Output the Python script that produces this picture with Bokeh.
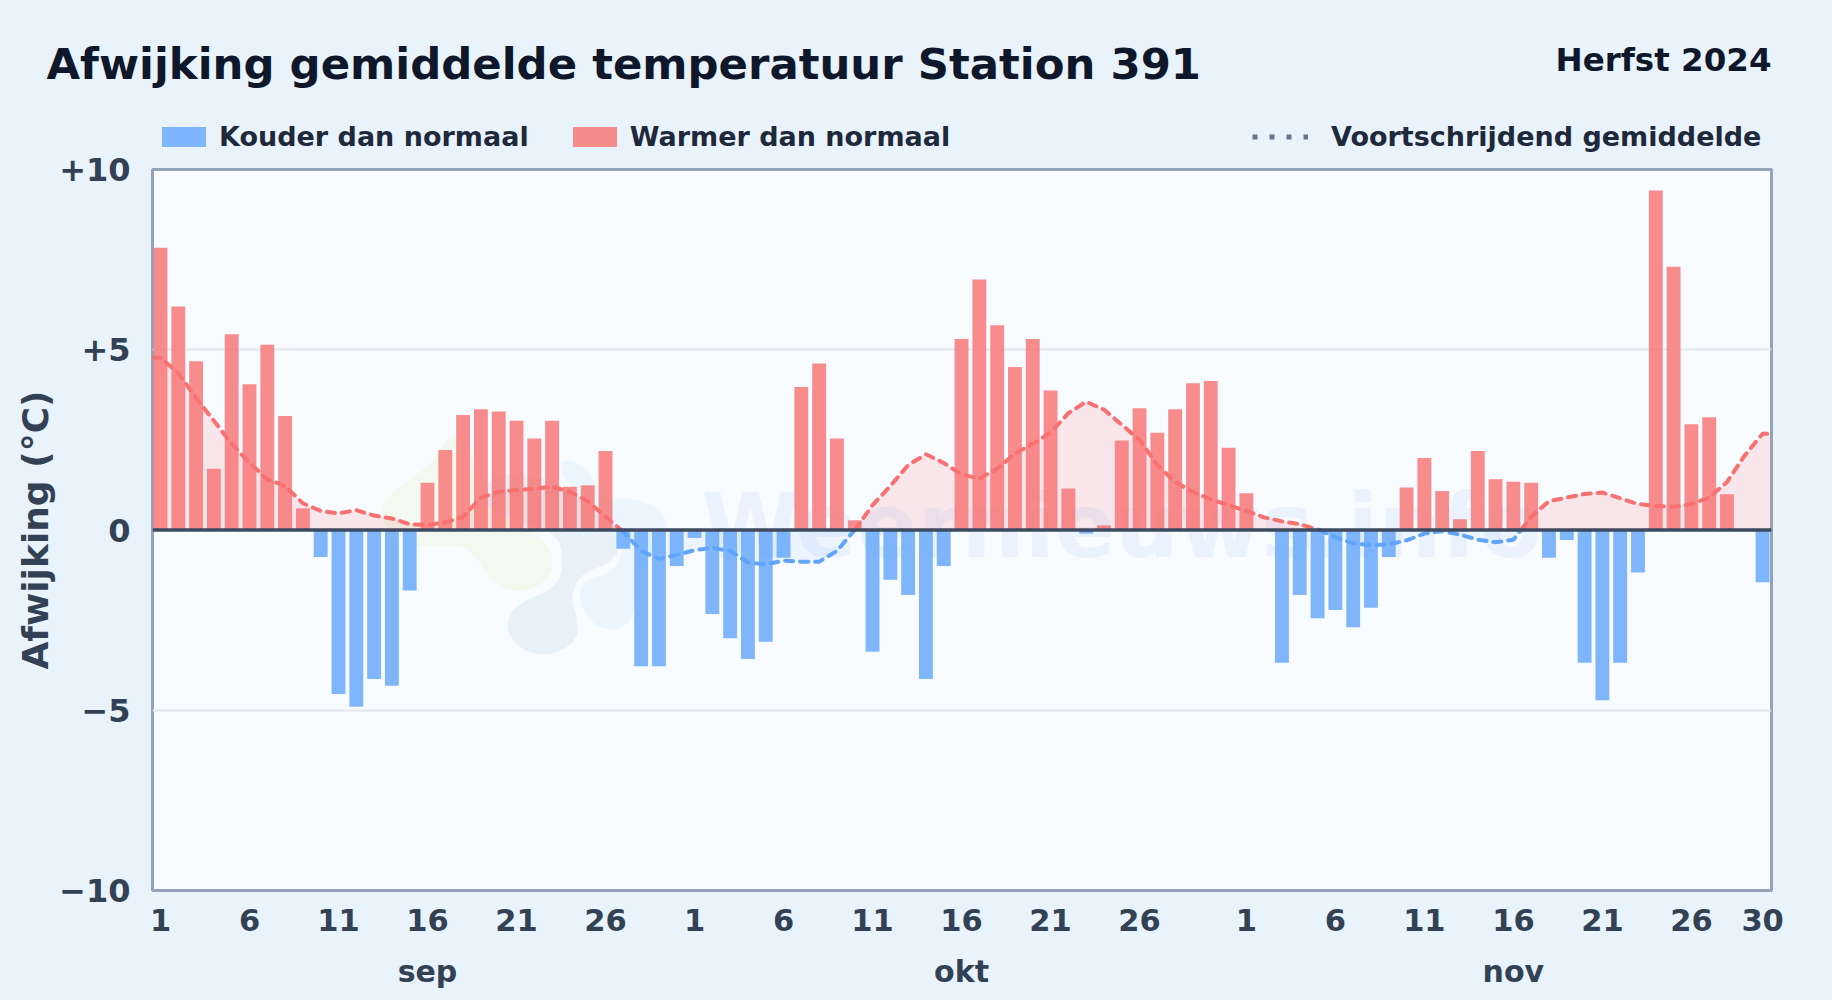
import math
from bokeh.plotting import figure
from bokeh.layouts import column
from bokeh.embed import file_html
from bokeh.resources import INLINE
from bokeh.models import (ColumnDataSource, FixedTicker, LinearAxis, Legend, LegendItem,
                          Label, Span, Range1d)
from bokeh.core.properties import value

TITLE = "Afwijking gemiddelde temperatuur Station 391"
SEASON = "Herfst 2024"
WATERMARK = "Weernieuws.info"
YLABEL = "Afwijking (°C)"

# Daily deviation (°C), 1 sep - 30 nov 2024
sep_values = [7.83, 6.2, 4.68, 1.7, 5.43, 4.04, 5.14, 3.16, 0.6, -0.75,
              -4.55, -4.9, -4.13, -4.32, -1.68, 1.31, 2.22, 3.19, 3.35, 3.29,
              3.03, 2.54, 3.03, 1.2, 1.24, 2.19, -0.52, -3.78, -3.78, -1.0]
okt_values = [-0.22, -2.33, -3.0, -3.58, -3.1, -0.77, 3.97, 4.62, 2.54, 0.27,
              -3.38, -1.38, -1.8, -4.13, -1.0, 5.3, 6.95, 5.68, 4.52, 5.3,
              3.87, 1.15, -0.1, 0.13, 2.48, 3.38, 2.7, 3.35, 4.07, 4.13, 2.28]
nov_values = [1.02, 0.0, -3.68, -1.8, -2.45, -2.22, -2.7, -2.16, -0.75, 1.18,
              2.0, 1.08, 0.3, 2.19, 1.41, 1.34, 1.31, -0.77, -0.28, -3.68,
              -4.72, -3.68, -1.18, 9.42, 7.3, 2.93, 3.13, 0.99, 0.0, -1.45]

# Moving average
sep_ma = [4.78, 4.35, 3.66, 3.03, 2.39, 1.86, 1.41, 1.22, 0.74, 0.53,
          0.46, 0.55, 0.40, 0.32, 0.16, 0.14, 0.21, 0.37, 0.90, 1.06,
          1.11, 1.14, 1.20, 1.06, 0.80, 0.37, -0.05, -0.58, -0.80, -0.69]
okt_ma = [-0.56, -0.50, -0.58, -0.90, -0.96, -0.85, -0.88, -0.88, -0.58, 0.0,
          0.69, 1.22, 1.80, 2.10, 1.86, 1.54, 1.43, 1.70, 2.12, 2.39,
          2.70, 3.24, 3.56, 3.34, 2.92, 2.50, 1.80, 1.33, 1.06, 0.85, 0.69]
nov_ma = [0.53, 0.35, 0.24, 0.16, 0.02, -0.20, -0.37, -0.42, -0.40, -0.29,
          -0.10, -0.03, -0.13, -0.27, -0.34, -0.27, 0.37, 0.80, 0.90, 1.00,
          1.04, 0.88, 0.72, 0.67, 0.64, 0.72, 0.90, 1.33, 2.07, 2.67]

month_names = ["sep", "okt", "nov"]
y_ticks = [-10, -5, 0, 5, 10]
y_tick_labels = ["−10", "−5", "0", "+5", "+10"]

values = sep_values + okt_values + nov_values
ma = sep_ma + okt_ma + nov_ma
month_sizes = [len(sep_values), len(okt_values), len(nov_values)]

tick_pos, tick_lab, month_pos = [], [], []
offset = 0
for n in month_sizes:
    for d in range(1, 27, 5):
        tick_pos.append(offset + d - 1)
        tick_lab.append(str(d))
    month_pos.append(offset + 15)
    offset += n
tick_pos.append(90)
tick_lab.append("30")

BLUE, RED = "#60a5fa", "#f87171"
BG, PLOT_BG = "#e9f3fc", "#f8fbff"
X0, X1 = -0.449, 90.5
HEAD_H = 155

# --- chart
p = figure(width=1832, height=1000 - HEAD_H, output_backend="svg", toolbar_location=None,
           x_range=Range1d(X0, X1), y_range=Range1d(-10, 10), frame_align=False,
           min_border_left=152, min_border_right=61, min_border_top=169 - HEAD_H, min_border_bottom=110,
           background_fill_color=PLOT_BG, border_fill_color=BG)
p.outline_line_color = "#94a3b8"
p.outline_line_width = 3

def frame_x(px):
    return (px - 160.0) / 17.8

def frame_y(py):
    return (529.8 - py) / 36.05

def chaikin(pts, n=3):
    for _ in range(n):
        out = []
        for i in range(len(pts)):
            a, b = pts[i], pts[(i + 1) % len(pts)]
            out.append((0.75 * a[0] + 0.25 * b[0], 0.75 * a[1] + 0.25 * b[1]))
            out.append((0.25 * a[0] + 0.75 * b[0], 0.25 * a[1] + 0.75 * b[1]))
        pts = out
    return pts

# Watermark logo
logo_shapes = [
    ("#f3f9ee", [(380, 505), (383, 527), (403, 540), (420, 547), (460, 545), (473, 553), (490, 580),
                 (510, 592), (537, 588), (553, 570), (550, 547), (533, 533), (480, 500), (470, 440),
                 (450, 432), (430, 465), (400, 485)]),
    ("#ebf6fe", [(560, 457), (587, 467), (600, 497), (647, 500), (670, 520), (653, 553), (637, 570),
                 (633, 620), (613, 631), (590, 623), (578, 600), (583, 580), (613, 572), (623, 550),
                 (617, 530), (560, 477)]),
    ("#e8f0f8", [(557, 533), (563, 560), (557, 587), (520, 602), (507, 617), (508, 637), (527, 653),
                 (553, 655), (577, 640), (577, 617), (570, 597), (580, 573), (610, 563), (620, 547),
                 (617, 528), (560, 483), (520, 473), (490, 477), (473, 500), (517, 523)]),
]
for col, pts in logo_shapes:
    s = chaikin(pts)
    p.patch([frame_x(a) for a, _ in s], [frame_y(b) for _, b in s], fill_color=col, line_color=None)

p.text([frame_x(1121)], [frame_y(526)], text=[WATERMARK], text_font=value("DejaVu Sans"),
       text_font_size="89px", text_font_style="bold", text_color="#3b82f6", text_alpha=0.07,
       text_align="center", text_baseline="alphabetic")

# Moving average, split at the zero crossings
xs = [X0] + list(range(len(ma))) + [X1]
ys = [ma[0]] + ma + [ma[-1]]
dx, dy = [xs[0]], [ys[0]]
for i in range(1, len(xs)):
    a, b = ys[i - 1], ys[i]
    if a * b < 0:
        t = a / (a - b)
        dx.append(xs[i - 1] + t * (xs[i] - xs[i - 1]))
        dy.append(0.0)
    dx.append(xs[i])
    dy.append(b)

pos = [max(v, 0) for v in dy]
neg = [min(v, 0) for v in dy]
p.varea(dx, [0] * len(dx), pos, fill_color=RED, fill_alpha=0.15)
p.varea(dx, [0] * len(dx), neg, fill_color=BLUE, fill_alpha=0.08)
line_pos = [v if v >= 0 else math.nan for v in dy]
line_neg = [v if v <= 0 else math.nan for v in dy]
p.line(dx, line_pos, line_color=RED, line_width=4, line_dash="8 7", line_cap="round")
p.line(dx, line_neg, line_color=BLUE, line_width=4, line_dash="8 7", line_cap="round")

idx = list(range(len(values)))
cold = ColumnDataSource(dict(x=[i for i in idx if values[i] < 0], top=[v for v in values if v < 0]))
warm = ColumnDataSource(dict(x=[i for i in idx if values[i] > 0], top=[v for v in values if v > 0]))
p.vbar(x="x", top="top", bottom=0, width=0.78, source=cold, fill_color=BLUE, fill_alpha=0.8, line_color=None)
p.vbar(x="x", top="top", bottom=0, width=0.78, source=warm, fill_color=RED, fill_alpha=0.8, line_color=None)

p.add_layout(Span(location=0, dimension="width", line_color="#3d4a60", line_width=3.5))

# Axes
p.xaxis.ticker = FixedTicker(ticks=tick_pos)
p.xaxis.major_label_overrides = dict(zip(tick_pos, tick_lab))
p.yaxis.ticker = FixedTicker(ticks=y_ticks)
p.yaxis.major_label_overrides = dict(zip(y_ticks, y_tick_labels))
for ax in (p.xaxis[0], p.yaxis[0]):
    ax.axis_line_color = None
    ax.major_tick_line_color = None
    ax.minor_tick_line_color = None
    ax.major_label_text_font = "DejaVu Sans"
    ax.major_label_text_font_style = "bold"
    ax.major_label_text_color = "#334155"
p.xaxis[0].major_label_text_font_size = "30.5px"
p.yaxis[0].major_label_text_font_size = "32px"
p.xaxis[0].major_label_standoff = 12
p.yaxis[0].major_label_standoff = 16
p.yaxis[0].axis_label = YLABEL
p.yaxis[0].axis_label_text_font = "DejaVu Sans"
p.yaxis[0].axis_label_text_font_style = "bold"
p.yaxis[0].axis_label_text_font_size = "36px"
p.yaxis[0].axis_label_text_color = "#334155"
p.yaxis[0].axis_label_standoff = 0

month_axis = LinearAxis(ticker=FixedTicker(ticks=month_pos),
                        major_label_overrides=dict(zip(month_pos, month_names)),
                        axis_line_color=None, major_tick_line_color=None, minor_tick_line_color=None,
                        major_label_text_font="DejaVu Sans", major_label_text_font_style="bold",
                        major_label_text_font_size="30px", major_label_text_color="#334155",
                        major_label_standoff=14)
p.add_layout(month_axis, "below")

p.xgrid.visible = False
p.ygrid.ticker = FixedTicker(ticks=[-5, 5])
p.ygrid.grid_line_color = "#e2e8f0"
p.ygrid.grid_line_width = 2

# --- header: title, season and legends
head = figure(width=1832, height=HEAD_H, output_backend="svg", toolbar_location=None,
              x_range=Range1d(0, 1832), y_range=Range1d(HEAD_H, 0), frame_align=False,
              x_axis_type=None, y_axis_type=None, min_border=0,
              background_fill_color=BG, border_fill_color=BG, outline_line_color=None)
head.xgrid.visible = False
head.ygrid.visible = False

r_cold = head.vbar(x=[math.nan], top=[1], bottom=0, width=1, fill_color=BLUE, fill_alpha=0.8, line_color=None)
r_warm = head.vbar(x=[math.nan], top=[1], bottom=0, width=1, fill_color=RED, fill_alpha=0.8, line_color=None)
r_ma = head.line([math.nan], [math.nan], line_color="#64748b", line_width=5, line_dash="5 12")

def legend(items, x, width, height, standoff):
    lg = Legend(items=items, orientation="horizontal", location=(x, 3), border_line_color=None,
                background_fill_alpha=0, label_text_font="DejaVu Sans", label_text_font_style="bold",
                label_text_font_size="27px", label_text_color="#1e293b", glyph_width=width, glyph_height=height,
                label_standoff=standoff, spacing=38, padding=0, margin=0)
    head.add_layout(lg, "center")

legend([LegendItem(label="Kouder dan normaal", renderers=[r_cold]),
        LegendItem(label="Warmer dan normaal", renderers=[r_warm])], 156, 55, 25, 8)
legend([LegendItem(label="Voortschrijdend gemiddelde", renderers=[r_ma])], 1252, 56, 25, 23)

head.add_layout(Label(x=46, y=63, text=TITLE, text_align="left", text_baseline="alphabetic",
                      text_font="DejaVu Sans", text_font_style="bold", text_font_size="43.4px",
                      text_color="#0f172a"))
head.add_layout(Label(x=1771, y=59, text=SEASON, text_align="right", text_baseline="alphabetic",
                      text_font="DejaVu Sans", text_font_style="bold", text_font_size="32.5px",
                      text_color="#0f172a"))

open("out.html", "w").write(file_html(column(head, p, spacing=0, styles={"background-color": BG}), INLINE))
